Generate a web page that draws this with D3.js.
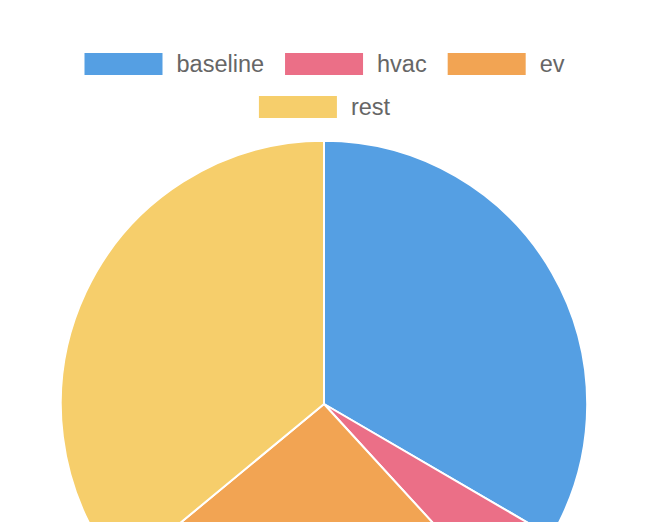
<!DOCTYPE html>
<html>
<head>
<meta charset="utf-8">
<script src="https://cdn.jsdelivr.net/npm/d3@7"></script>
<style>
html,body{margin:0;padding:0;background:#fff;overflow:hidden;}
svg{display:block;}
</style>
</head>
<body>
<svg id="chart" width="648" height="522"></svg>
<script>
const labels = ["baseline", "hvac", "ev", "rest"];
const values = [33.4, 4.8, 25.8, 36.0];
const colors = ["#559FE3", "#EB6F87", "#F2A453", "#F6CE6B"];

const W = 648, H = 522;
const svg = d3.select("#chart");
const cx = 324, cy = 404, R = 263.2;

const pie = d3.pie().sort(null).value(d => d)(values);
const arc = d3.arc().innerRadius(0).outerRadius(R);

svg.append("g").attr("transform", `translate(${cx},${cy})`)
  .selectAll("path").data(pie).join("path")
  .attr("d", arc)
  .attr("fill", (d, i) => colors[i])
  .attr("stroke", "#fff")
  .attr("stroke-width", 2)
  .attr("stroke-linejoin", "round");

// legend
const fontSize = 23.5, boxW = 78, boxH = 22, gapText = 14, gapItem = 21;
const font = `${fontSize}px "Liberation Sans", Arial, Helvetica, sans-serif`;
const ctx = document.createElement("canvas").getContext("2d");
ctx.font = font;
const items = labels.map((l, i) => ({ label: l, color: colors[i], w: boxW + gapText + ctx.measureText(l).width }));
const rows = [items.slice(0, 3), items.slice(3)];
const rowBaselines = [71.7, 114.7];
const legend = svg.append("g");
rows.forEach((row, r) => {
  const total = d3.sum(row, d => d.w) + gapItem * (row.length - 1);
  let x = (W - total) / 2 + 0.5;
  const base = rowBaselines[r];
  row.forEach(it => {
    legend.append("rect").attr("x", x).attr("y", base - 18.7).attr("width", boxW).attr("height", boxH)
      .attr("fill", it.color);
    legend.append("text").attr("x", x + boxW + gapText).attr("y", base)
      .attr("fill", "#666").style("font", font).text(it.label);
    x += it.w + gapItem;
  });
});
</script>
</body>
</html>
